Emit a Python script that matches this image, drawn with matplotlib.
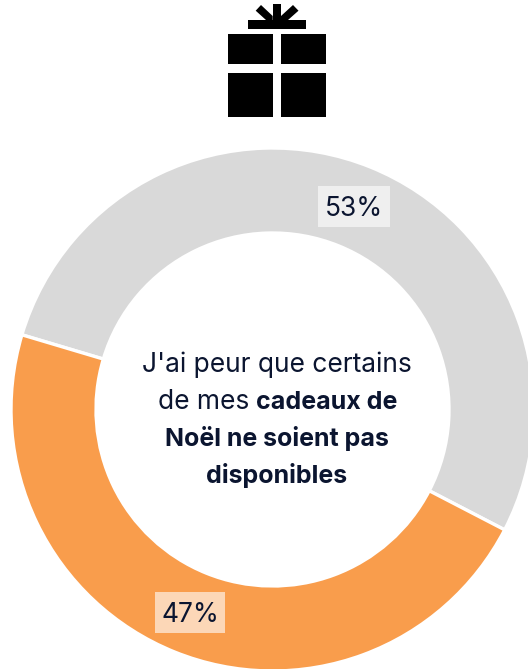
#!/usr/bin/env python3
"""Donut chart: fear of Christmas presents being out of stock."""

import matplotlib
matplotlib.use('Agg')
import matplotlib.pyplot as plt
from matplotlib.patches import Polygon, Rectangle

# Data
shares = [53, 47]
share_labels = ['53%', '47%']
colors = ['#D9D9D9', '#F99D4C']

WIDTH, HEIGHT = 528, 669
INK = '#0B1530'
FONT = ['Inter', 'DejaVu Sans']


def y_up(y):
    """Convert a top-down pixel row to the axes y coordinate."""
    return HEIGHT - y


def draw_gift(ax):
    """Draw the present icon above the ring."""
    boxes = [
        (228, 34, 44.7, 30), (281, 34, 44.7, 30),
        (228, 72.5, 44.7, 44.5), (281, 72.5, 44.7, 44.5),
        (248, 20, 57.7, 8.5), (272.7, 4, 8.3, 16),
    ]
    for x, y, w, h in boxes:
        ax.add_patch(Rectangle((x, y_up(y + h)), w, h, fc='black', ec='none'))

    rays = [
        [(255.7, 10.7), (261, 5), (272.7, 16), (272.7, 20), (266, 20)],
        [(298.5, 10.7), (293, 5), (281, 16), (281, 20), (288, 20)],
    ]
    for ray in rays:
        ax.add_patch(Polygon([(x, y_up(y)) for x, y in ray], fc='black', ec='none'))


def draw_value_label(ax, text, x0, y0, x1, y1):
    """Percentage on a translucent white box."""
    ax.add_patch(Rectangle((x0, y_up(y1)), x1 - x0, y1 - y0,
                           fc='white', alpha=0.6, ec='none', zorder=3))
    ax.text((x0 + x1) / 2, y_up((y0 + y1) / 2), text, ha='center', va='center_baseline',
            fontsize=19, family=FONT, color=INK, zorder=4)


def main():
    fig = plt.figure(figsize=(WIDTH / 100, HEIGHT / 100), dpi=100)
    ax = fig.add_axes([0, 0, 1, 1])

    ax.pie(shares, colors=colors, startangle=163.4, counterclock=False,
           center=(272.5, y_up(409.5)), radius=261.5,
           wedgeprops={'width': 85, 'edgecolor': 'white', 'linewidth': 2.4})

    ax.set_xlim(0, WIDTH)
    ax.set_ylim(0, HEIGHT)
    ax.set_aspect('equal')
    ax.axis('off')

    draw_gift(ax)

    draw_value_label(ax, share_labels[0], 318, 186, 390, 227)
    draw_value_label(ax, share_labels[1], 155, 592, 225, 633)

    # Centre caption, mixed weights so each run is placed on its own
    text_kw = dict(fontsize=19, family=FONT, color=INK, va='baseline')
    ax.text(277, y_up(372), "J'ai peur que certains", ha='center', **text_kw)
    ax.text(158, y_up(409), 'de mes', ha='left', **text_kw)

    bold_kw = dict(text_kw, fontsize=18, fontweight='bold')
    ax.text(397, y_up(409), 'cadeaux de', ha='right', **bold_kw)
    ax.text(277, y_up(446), 'Noël ne soient pas', ha='center', **bold_kw)
    ax.text(277, y_up(483), 'disponibles', ha='center', **bold_kw)

    fig.savefig('out.png', dpi=100)


if __name__ == '__main__':
    main()
